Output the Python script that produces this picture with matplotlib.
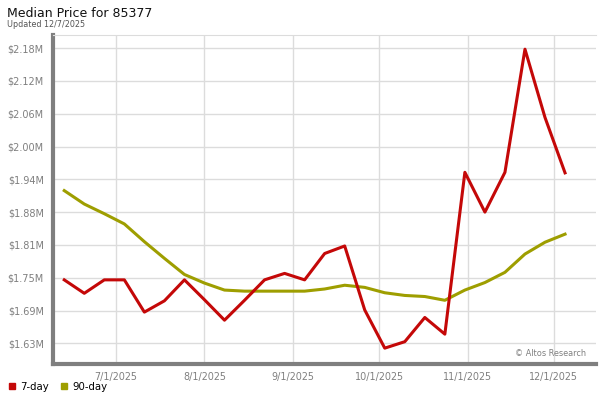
import pandas as pd
import matplotlib
matplotlib.use("Agg")
import matplotlib.pyplot as plt
from matplotlib.lines import Line2D

# Data (weekly, Fridays)
dates = pd.date_range("2025-06-13", "2025-12-05", freq="7D")
price_7day = [1.750, 1.725, 1.750, 1.750, 1.690, 1.711, 1.750, 1.713, 1.675, 1.712,
              1.750, 1.762, 1.750, 1.799, 1.813, 1.694, 1.623, 1.635, 1.680, 1.649,
              1.950, 1.876, 1.950, 2.179, 2.052, 1.949]
price_90day = [1.916, 1.891, 1.873, 1.854, 1.821, 1.790, 1.760, 1.744, 1.731, 1.729,
               1.729, 1.729, 1.729, 1.733, 1.740, 1.736, 1.726, 1.721, 1.719, 1.712,
               1.731, 1.745, 1.764, 1.798, 1.820, 1.835]
ytick_vals = [1.632, 1.693, 1.754, 1.815, 1.876, 1.937, 1.998, 2.059, 2.120, 2.181]
ytick_labels = ["$1.63M", "$1.69M", "$1.75M", "$1.81M", "$1.88M",
                "$1.94M", "$2.00M", "$2.06M", "$2.12M", "$2.18M"]
xtick_dates = pd.to_datetime(["2025-07-01", "2025-08-01", "2025-09-01",
                              "2025-10-01", "2025-11-01", "2025-12-01"])

red = "#c40808"
olive = "#9e9e00"
gray = "#7f7f7f"

fig = plt.figure(figsize=(6, 4), dpi=100)
ax = fig.add_axes([0.088, 0.09, 0.905, 0.8225])

ax.plot(dates, price_90day, color=olive, lw=2.2, zorder=3)
ax.plot(dates, price_7day, color=red, lw=2.2, zorder=4)

ax.set_ylim(1.5935, 2.2054)
ax.set_xlim(pd.Timestamp("2025-06-09 00:00"), pd.Timestamp("2025-12-15 18:00"))
ax.set_yticks(ytick_vals)
ax.set_yticklabels(ytick_labels)
ax.set_xticks(xtick_dates)
ax.set_xticklabels([f"{d.month}/{d.day}/{d.year}" for d in xtick_dates])

ax.grid(True, color="#dcdcdc", lw=1)
ax.set_axisbelow(True)
ax.tick_params(length=0, labelcolor=gray)
ax.tick_params(axis="y", pad=6.5, labelsize=7.0)
ax.tick_params(axis="x", pad=6, labelsize=6.9)

for side in ["left", "bottom"]:
    ax.spines[side].set_color(gray)
    ax.spines[side].set_linewidth(3)
ax.spines["right"].set_visible(False)
ax.spines["top"].set_color("#dcdcdc")

ax.text(0.983, 0.018, "\u00a9 Altos Research", transform=ax.transAxes,
        ha="right", va="bottom", fontsize=5.9, color=gray)

fig.text(0.012, 0.967, "Median Price for 85377", fontsize=9.0, color="#111111", va="center")
fig.text(0.012, 0.938, "Updated 12/7/2025", fontsize=5.8, color="#555555", va="center")

handles = [Line2D([], [], marker="s", color=red, ls="none", markersize=4.5),
           Line2D([], [], marker="s", color=olive, ls="none", markersize=4.5)]
fig.legend(handles, ["7-day", "90-day"], loc="lower left", bbox_to_anchor=(-0.004, -0.002),
           ncol=2, frameon=False, fontsize=7.3, handletextpad=0.3, columnspacing=1.0,
           handlelength=1.0)

fig.savefig("out.png", dpi=100)
